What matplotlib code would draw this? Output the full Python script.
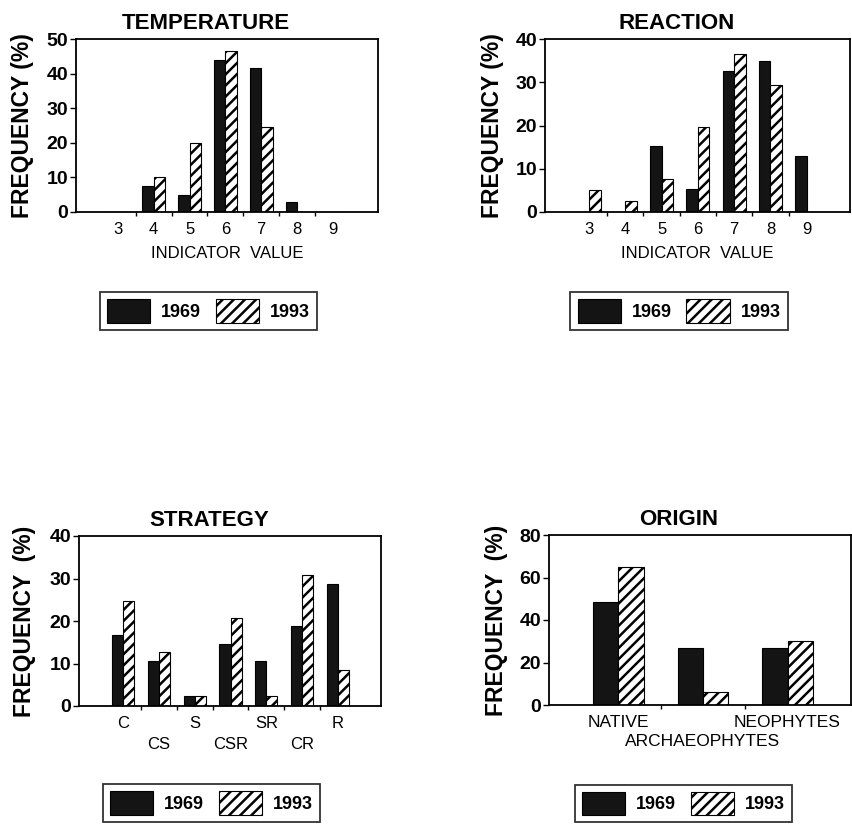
import matplotlib
matplotlib.use('Agg')
import matplotlib.pyplot as plt
import matplotlib.transforms as mtransforms
from matplotlib.patches import Patch
import numpy as np

plt.rcParams['font.family'] = ['Liberation Sans', 'DejaVu Sans']
plt.rcParams['hatch.linewidth'] = 1.8

# data
temp_cats = ['3', '4', '5', '6', '7', '8', '9']
temp_1969 = [0, 7.5, 5, 44, 41.5, 3, 0]
temp_1993 = [0, 10, 20, 46.5, 24.7, 0, 0]

react_cats = ['3', '4', '5', '6', '7', '8', '9']
react_1969 = [0, 0, 15.3, 5.3, 32.7, 35, 12.9]
react_1993 = [5.1, 2.6, 7.6, 19.7, 36.6, 29.3, 0]

strat_cats = ['C', 'CS', 'S', 'CSR', 'SR', 'CR', 'R']
strat_1969 = [16.6, 10.5, 2.4, 14.6, 10.6, 18.8, 28.8]
strat_1993 = [24.7, 12.6, 2.4, 20.8, 2.4, 30.8, 8.4]

origin_cats = ['NATIVE', 'ARCHAEOPHYTES', 'NEOPHYTES']
origin_1969 = [48.3, 26.7, 26.6]
origin_1993 = [64.9, 6.3, 30.2]

years = ['1969', '1993']

W, H = 852, 825
fig = plt.figure(figsize=(W / 100, H / 100), dpi=100)


def px_axes(left, right, top, bottom):
    return fig.add_axes([left / W, 1 - bottom / H, (right - left) / W, (bottom - top) / H])


def draw_panel(ax, title, cats, v69, v93, ymax, ystep, xlim, width, xlabel=None,
               ylab_x=-0.175, ylabel='FREQUENCY (%)', xfs=12, two_rows=None):
    x = np.arange(len(cats))
    ax.bar(x - width / 2, v69, width, color='#141414', edgecolor='black', linewidth=0.8)
    ax.bar(x + width / 2, v93, width, color='white', edgecolor='black', linewidth=0.8, hatch='///')
    ax.set_xlim(*xlim)
    ax.set_ylim(0, ymax)
    ax.set_yticks(np.arange(0, ymax + 1, ystep))
    if two_rows is None:
        ax.set_xticks(x)
        ax.set_xticklabels(cats, fontsize=xfs)
    else:
        # staggered labels: every second category goes on a lower row
        top_idx = x[::2]
        ax.set_xticks(top_idx)
        ax.set_xticklabels([cats[i] for i in top_idx], fontsize=xfs)
        trans = mtransforms.blended_transform_factory(ax.transData, ax.transAxes)
        for i in x[1::2]:
            ax.text(i, two_rows, cats[i], transform=trans, ha='center', va='top', fontsize=xfs)
    ax.set_xticks(x[:-1] + 0.5, minor=True)
    ax.tick_params(axis='x', which='major', length=0, pad=7)
    ax.tick_params(axis='x', which='minor', length=3, width=1, direction='out')
    ax.tick_params(axis='y', length=4, width=1, pad=1.5, labelsize=14)
    for lab in ax.get_yticklabels():
        lab.set_fontweight('bold')
    for sp in ax.spines.values():
        sp.set_linewidth(1.3)
    ax.set_title(title, fontsize=16, fontweight='bold', x=0.43, pad=7)
    ax.text(ylab_x, 0.5, ylabel, rotation=90, ha='center', va='center',
            fontsize=16.5, fontweight='bold', transform=ax.transAxes)
    if xlabel:
        ax.set_xlabel(xlabel, fontsize=12, labelpad=7)


def add_legend(cx, cy):
    handles = [Patch(facecolor='#141414', edgecolor='black', linewidth=0.8),
               Patch(facecolor='white', edgecolor='black', linewidth=0.8, hatch='///')]
    leg = fig.legend(handles, years, loc='center', bbox_to_anchor=(cx / W, 1 - cy / H),
                     ncol=2, fancybox=False, frameon=True, edgecolor='black',
                     prop={'weight': 'bold', 'size': 13},
                     handlelength=2.4, handleheight=1.6, handletextpad=0.6,
                     columnspacing=0.8, borderpad=0.4)
    leg.get_frame().set_linewidth(1.3)


ax1 = px_axes(76, 378, 39, 212)
draw_panel(ax1, 'TEMPERATURE', temp_cats, temp_1969, temp_1993, 50, 10,
           (-1.17, 7.26), 0.32, 'INDICATOR  VALUE', ylab_x=-0.177)
add_legend(208.5, 311)

ax2 = px_axes(545, 850, 39, 212)
draw_panel(ax2, 'REACTION', react_cats, react_1969, react_1993, 40, 10,
           (-1.21, 7.19), 0.32, 'INDICATOR  VALUE', ylab_x=-0.172)
add_legend(679, 311)

ax3 = px_axes(79, 381, 536, 706)
draw_panel(ax3, 'STRATEGY', strat_cats, strat_1969, strat_1993, 40, 10,
           (-1.23, 7.2), 0.31, ylab_x=-0.182, ylabel='FREQUENCY  (%)', two_rows=-0.182)
add_legend(211.5, 803)

ax4 = px_axes(549, 851, 535, 705)
draw_panel(ax4, 'ORIGIN', origin_cats, origin_1969, origin_1993, 80, 20,
           (-0.82, 2.75), 0.30, ylab_x=-0.175, ylabel='FREQUENCY  (%)', xfs=12.5,
           two_rows=-0.171)
add_legend(683.5, 803.5)

fig.savefig('out.png', dpi=100, facecolor='white')
